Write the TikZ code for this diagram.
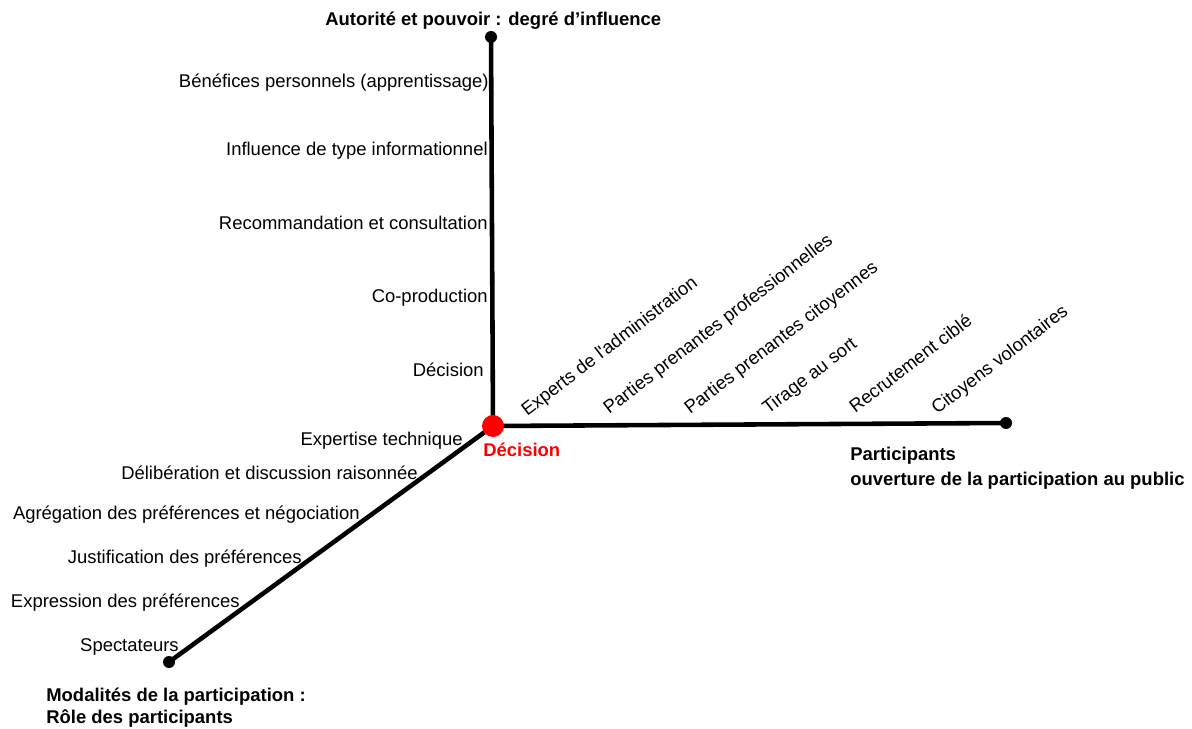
\documentclass[tikz,border=0pt]{standalone}
\usepackage{fontspec}
\newfontfamily\arial{Liberation Sans}
\begin{document}
\begin{tikzpicture}[x=0.02cm,y=-0.02cm,
  font=\arial\fontsize{10.5}{12.6}\selectfont,
  axisline/.style={line width=2.6pt},
  enddot/.style={circle,fill=black,inner sep=0pt,minimum size=0.24cm},
  centredot/.style={circle,fill=red,inner sep=0pt,minimum size=0.44cm},
  lbl/.style={inner sep=0pt,anchor=base east},
  rlbl/.style={inner sep=0pt,anchor=base west,rotate=37.5},
  ttl/.style={inner sep=0pt,anchor=base west,font=\arial\bfseries\fontsize{10.5}{12.6}\selectfont}]
\useasboundingbox (0,0) rectangle (1192,729);
\coordinate (O) at (493,426);
\coordinate (T) at (491,37);
\coordinate (R) at (1006,423);
\coordinate (B) at (169,662);
\draw[axisline] (O) -- (T);
\draw[axisline] (O) -- (R);
\draw[axisline] (O) -- (B);
\node[enddot] (Td) at (T) {};
\node[enddot] (Rd) at (R) {};
\node[enddot] (Bd) at (B) {};
\node[centredot] (Od) at (O) {};
% titles
\node[ttl] (t1) at (325,26) {Autorité et pouvoir : degré d’influence};
\node[ttl,text=red] (t2) at (483,456) {Décision};
\node[ttl] (t3) at (850,460) {Participants};
\node[ttl] (t4) at (850,485) {ouverture de la participation au public};
\node[ttl] (t5) at (46,701) {Modalités de la participation :};
\node[ttl] (t6) at (46,723) {Rôle des participants};
% vertical axis labels
\node[lbl] (v1) at (489,88) {Bénéfices personnels (apprentissage)};
\node[lbl] (v2) at (488,156) {Influence de type informationnel};
\node[lbl] (v3) at (488,230) {Recommandation et consultation};
\node[lbl] (v4) at (488,302) {Co-production};
\node[lbl] (v5) at (484,376) {Décision};
% diagonal axis labels
\node[lbl] (d1) at (463,445) {Expertise technique};
\node[lbl] (d2) at (418,479) {Délibération et discussion raisonnée};
\node[lbl] (d3) at (360,519) {Agrégation des préférences et négociation};
\node[lbl] (d4) at (302,563) {Justification des préférences};
\node[lbl] (d5) at (240,607) {Expression des préférences};
\node[lbl] (d6) at (179,651) {Spectateurs};
% horizontal axis labels
\node[rlbl] (h1) at (527,417) {Experts de l'administration};
\node[rlbl] (h2) at (609,415) {Parties prenantes professionnelles};
\node[rlbl] (h3) at (690,415) {Parties prenantes citoyennes};
\node[rlbl] (h4) at (768,415) {Tirage au sort};
\node[rlbl] (h5) at (855,414) {Recrutement ciblé};
\node[rlbl] (h6) at (937,415) {Citoyens volontaires};
\end{tikzpicture}
\end{document}
